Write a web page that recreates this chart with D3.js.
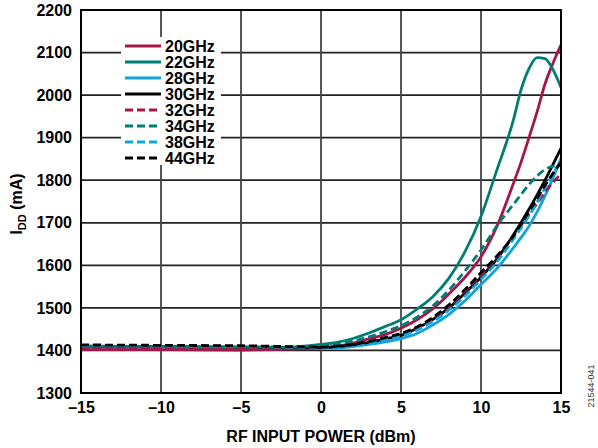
<!DOCTYPE html>
<html><head><meta charset="utf-8">
<script src="https://cdn.jsdelivr.net/npm/d3@7/dist/d3.min.js"></script>
<style>body{margin:0;background:#fff;} svg{display:block;}</style>
</head><body>
<svg id="chart" width="598" height="448"></svg>
<script>
const xs = [-15,-10,-5,-2,0,1,2,3,4,5,6,7,8,9,10,11,12,12.5,13,13.5,14,14.5,15];
const ghz20 = [1402,1402,1401,1403,1406,1410,1417,1427,1437,1452,1472,1498,1533,1572,1620,1692,1790,1842,1900,1960,2026,2075,2118];
const ghz22 = [1410,1409,1408,1408,1414,1419,1428,1441,1456,1472,1497,1527,1570,1632,1715,1825,1938,2012,2062,2088,2086,2060,2018];
const ghz28 = [1408,1407,1406,1406,1405,1406,1409,1414,1420,1428,1440,1460,1485,1517,1555,1593,1640,1665,1692,1725,1763,1805,1852];
const ghz30 = [1410,1409,1408,1407,1407,1409,1413,1419,1427,1435,1452,1473,1500,1535,1572,1615,1670,1700,1732,1765,1800,1837,1875];
const ghz32 = [1404,1404,1404,1405,1407,1410,1414,1420,1429,1437,1452,1475,1503,1540,1578,1620,1666,1693,1720,1745,1772,1795,1815];
const ghz34 = [1411,1410,1409,1408,1412,1416,1422,1432,1444,1458,1478,1505,1542,1587,1636,1693,1742,1766,1790,1810,1825,1833,1835];
const ghz38 = [1412,1411,1410,1408,1407,1408,1412,1418,1425,1433,1448,1468,1495,1528,1567,1608,1660,1688,1716,1748,1782,1815,1845];
const ghz44 = [1413,1412,1411,1409,1408,1410,1414,1421,1430,1440,1455,1478,1507,1543,1583,1622,1668,1697,1727,1757,1788,1816,1842];
const seriesNames = ["20GHz","22GHz","28GHz","30GHz","32GHz","34GHz","38GHz","44GHz"];
const seriesValues = [ghz20,ghz22,ghz28,ghz30,ghz32,ghz34,ghz38,ghz44];
const xTicks = [-15,-10,-5,0,5,10,15];
const yTicks = [1300,1400,1500,1600,1700,1800,1900,2000,2100,2200];

const colors = ["#A3174B","#007D75","#12A3DA","#000000","#A3174B","#007D75","#12A3DA","#000000"];
const dashed = [false,false,false,false,true,true,true,true];

const svg = d3.select("#chart");
const L = 81, R = 561, T = 10, B = 393;
const x = d3.scaleLinear().domain([-15,15]).range([L,R]);
const y = d3.scaleLinear().domain([1300,2200]).range([B,T]);
const font = "'Liberation Sans', Arial, sans-serif";
const FS = 16;

// gridlines
svg.append("g").selectAll("line").data(yTicks.slice(1,-1)).join("line")
  .attr("x1",L).attr("x2",R).attr("y1",d=>y(d)).attr("y2",d=>y(d))
  .attr("stroke","#222").attr("stroke-width",1.7);
svg.append("g").selectAll("line").data(xTicks.slice(1,-1)).join("line")
  .attr("y1",T).attr("y2",B).attr("x1",d=>x(d)).attr("x2",d=>x(d))
  .attr("stroke","#444").attr("stroke-width",1.8);

// legend background
svg.append("rect").attr("x",121).attr("y",37).attr("width",100).attr("height",128).attr("fill","#fff");

// clip
svg.append("clipPath").attr("id","clip").append("rect").attr("x",L).attr("y",T).attr("width",R-L).attr("height",B-T);

const line = d3.line().x((d,i)=>x(xs[i])).y(d=>y(d)).curve(d3.curveMonotoneX);
const g = svg.append("g").attr("clip-path","url(#clip)");
[2,0,3,1,4,5,6,7].forEach(i=>{
  g.append("path").datum(seriesValues[i]).attr("d",line)
   .attr("fill","none").attr("stroke",colors[i]).attr("stroke-width",2.8)
   .attr("stroke-linejoin","round")
   .attr("stroke-dasharray",dashed[i]?"8,4":null);
});

// frame
svg.append("rect").attr("x",L).attr("y",T).attr("width",R-L).attr("height",B-T)
  .attr("fill","none").attr("stroke","#000").attr("stroke-width",2);

// y axis labels
const yAxis = d3.axisLeft(y).tickValues(yTicks).tickSize(0).tickPadding(9).tickFormat(d3.format("d"));
const ya = svg.append("g").attr("transform",`translate(${L},0)`).call(yAxis);
ya.select(".domain").remove();
ya.selectAll("text").attr("font-family",font).attr("font-weight","bold").attr("font-size",FS).attr("fill","#000");

const xAxis = d3.axisBottom(x).tickValues(xTicks).tickSize(0).tickPadding(9)
  .tickFormat(d=> d<0 ? "\u2013"+Math.abs(d) : String(d));
const xa = svg.append("g").attr("transform",`translate(0,${B})`).call(xAxis);
xa.select(".domain").remove();
xa.selectAll("text").attr("font-family",font).attr("font-weight","bold").attr("font-size",FS).attr("fill","#000");

// axis titles
svg.append("text").attr("x",(L+R)/2).attr("y",442).attr("text-anchor","middle")
  .attr("font-family",font).attr("font-weight","bold").attr("font-size",FS).text("RF INPUT POWER (dBm)");
const yt = svg.append("text").attr("transform","translate(22,204) rotate(-90)").attr("text-anchor","middle")
  .attr("font-family",font).attr("font-weight","bold").attr("font-size",FS);
yt.append("tspan").text("I");
yt.append("tspan").attr("font-size",11).attr("dy",4).text("DD");
yt.append("tspan").attr("dy",-4).text(" (mA)");

svg.append("text").attr("transform","translate(594,386) rotate(-90)").attr("text-anchor","middle")
  .attr("font-family",font).attr("font-size",9).attr("fill","#333").text("21544-041");

// legend
const lg = svg.append("g");
seriesNames.forEach((n,i)=>{
  const yy = 46 + i*16;
  lg.append("line").attr("x1",125).attr("x2",161).attr("y1",yy).attr("y2",yy)
    .attr("stroke",colors[i]).attr("stroke-width",3)
    .attr("stroke-dasharray",dashed[i]?"8,4":null);
  lg.append("text").attr("x",165).attr("y",yy+5.5).attr("font-family",font).attr("font-weight","bold")
    .attr("font-size",FS).text(n);
});
</script>
</body></html>
